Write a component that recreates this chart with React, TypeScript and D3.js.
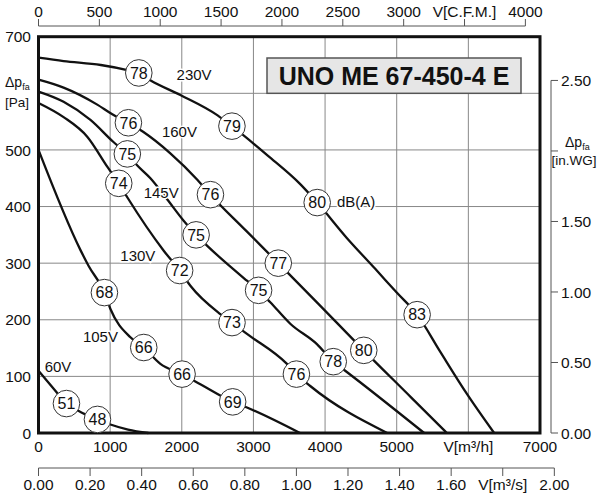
import React from 'react';
import * as d3 from 'd3';

const W = 600;
const H = 500;

// ---- axis ticks ----
const flowTicks = [0, 1000, 2000, 3000, 4000, 5000, 6000, 7000];
const flowTickLabels = ['0', '1000', '2000', '3000', '4000', '5000', 'V[m³/h]', '7000'];
const paTicks = [0, 100, 200, 300, 400, 500, 600, 700];
const paTickLabels = ['0', '100', '200', '300', '400', '500', '', '700'];
const cfmTicks = [0, 500, 1000, 1500, 2000, 2500, 3000, 3500, 4000];
const cfmTickLabels = ['0', '500', '1000', '1500', '2000', '2500', '3000', 'V[C.F.M.]', '4000'];
const m3sTicks = [0, 0.2, 0.4, 0.6, 0.8, 1.0, 1.2, 1.4, 1.6, 1.8, 2.0];
const m3sTickLabels = ['0.00', '0.20', '0.40', '0.60', '0.80', '1.00', '1.20', '1.40', '1.60', 'V[m³/s]', '2.00'];
const inwgTicks = [0, 0.5, 1.0, 1.5, 2.0, 2.5];
const inwgTickLabels = ['0.00', '0.50', '1.00', '1.50', '', '2.50'];

// ---- fan curves (flow m³/h, pressure Pa) ----
const v230Flow = [0, 350, 870, 1240, 1560, 1980, 2500, 3200, 3650, 4300, 4700, 5000, 5600, 5980, 6360];
const v230Pa = [663, 657, 650, 641, 623, 597, 561, 490, 440, 345, 290, 248, 145, 69, 0];
const v230DbFlow = [1400, 2700, 3890, 5285];
const v230DbPa = [636, 542, 407, 209];
const v230Db = [78, 79, 80, 83];

const v160Flow = [0, 350, 820, 1030, 1460, 1840, 2220, 2900, 3900, 5200, 5700];
const v160Pa = [624, 610, 580, 563, 532, 494, 447, 357, 229, 63, 0];
const v160DbFlow = [1255, 2400, 3347, 4540];
const v160DbPa = [548, 421, 300, 146];
const v160Db = [76, 76, 77, 80];

const v145Flow = [0, 350, 725, 1046, 1376, 1562, 1795, 2026, 2352, 2910, 3235, 3514, 3886, 4281, 5383];
const v145Pa = [603, 585, 553, 514, 473, 450, 413, 375, 331, 269, 231, 193, 157, 110, 0];
const v145DbFlow = [1240, 2200, 3072, 4114];
const v145DbPa = [493, 350, 252, 126];
const v145Db = [75, 75, 75, 78];

const v130Flow = [0, 350, 683, 962, 1241, 1748, 2120, 2538, 2910, 3468, 3793, 4867];
const v130Pa = [583, 558, 523, 470, 416, 322, 260, 210, 175, 122, 83, 0];
const v130DbFlow = [1120, 1970, 2701, 3600];
const v130DbPa = [441, 287, 195, 104];
const v130Db = [74, 72, 73, 76];

const v105Flow = [0, 586, 700, 1004, 1283, 1701, 2259, 2910, 3650];
const v105Pa = [500, 323, 295, 219, 169, 122, 86, 45, 0];
const v105DbFlow = [920, 1469, 2004, 2710];
const v105DbPa = [248, 151, 104, 55];
const v105Db = [68, 66, 66, 69];

const v60Flow = [0, 200, 586, 1004, 1250, 1534];
const v60Pa = [110, 80, 37, 15, 6, 0];
const v60DbFlow = [390, 823];
const v60DbPa = [52, 24];
const v60Db = [51, 48];

// ---- voltage / unit annotations (data coordinates) ----
const voltLabels = ['230V', '160V', '145V', '130V', '105V', '60V'];
const voltLabelFlow = [2172, 1967, 1713, 1387, 865, 272];
const voltLabelPa = [633, 533, 425, 314, 170, 117];
const dbaLabel = 'dB(A)';
const dbaLabelFlow = 4165;
const dbaLabelPa = 408;
const title = 'UNO ME 67-450-4 E';

const CFM_TO_M3H = 1.69901;
const INWG_TO_PA = 249.089;

type Pt = [number, number];
function buildCurve(f: number[], p: number[], df: number[], dp: number[]): Pt[] {
  const pts: Pt[] = f.map((v, i) => [v, p[i]] as Pt).concat(df.map((v, i) => [v, dp[i]] as Pt));
  pts.sort((a, b) => a[0] - b[0]);
  return pts;
}

const curveTable = [
  { pts: buildCurve(v230Flow, v230Pa, v230DbFlow, v230DbPa), df: v230DbFlow, dp: v230DbPa, db: v230Db },
  { pts: buildCurve(v160Flow, v160Pa, v160DbFlow, v160DbPa), df: v160DbFlow, dp: v160DbPa, db: v160Db },
  { pts: buildCurve(v145Flow, v145Pa, v145DbFlow, v145DbPa), df: v145DbFlow, dp: v145DbPa, db: v145Db },
  { pts: buildCurve(v130Flow, v130Pa, v130DbFlow, v130DbPa), df: v130DbFlow, dp: v130DbPa, db: v130Db },
  { pts: buildCurve(v105Flow, v105Pa, v105DbFlow, v105DbPa), df: v105DbFlow, dp: v105DbPa, db: v105Db },
  { pts: buildCurve(v60Flow, v60Pa, v60DbFlow, v60DbPa), df: v60DbFlow, dp: v60DbPa, db: v60Db },
];

const FONT = '"Liberation Sans", Arial, Helvetica, sans-serif';

export default function App() {
  const x = d3.scaleLinear().domain([0, 7000]).range([38.5, 540]);
  const y = d3.scaleLinear().domain([0, 700]).range([433, 36.7]);
  const xCfm = d3.scaleLinear().domain([0, 4000]).range([x(0), x(4000 * CFM_TO_M3H)]);
  const xM3s = d3.scaleLinear().domain([0, 2]).range([x(0), x(2 * 3600)]);
  const yInwg = d3.scaleLinear().domain([0, 2.5]).range([y(0), y(2.5 * INWG_TO_PA)]);

  const line = d3
    .line<Pt>()
    .x((d) => x(d[0]))
    .y((d) => y(d[1]))
    .curve(d3.curveMonotoneX);

  const [x0, x1] = x.range();
  const [y0, y1] = y.range();
  const topAxisY = 26;
  const bottomAxisY = 468;
  const rightAxisX = 551;
  const axisColor = '#555';

  return (
    <svg
      width={W}
      height={H}
      viewBox={`0 0 ${W} ${H}`}
      style={{ position: 'absolute', left: 0, top: 0, background: '#fff' }}
      fontFamily={FONT}
    >
      <rect x={0} y={0} width={W} height={H} fill="#fff" />
      {/* grid */}
      <g stroke="#888" strokeWidth={1}>
        {flowTicks.slice(1, -1).map((t) => (
          <line key={'gx' + t} x1={x(t)} x2={x(t)} y1={y1} y2={y0} />
        ))}
        {paTicks.slice(1, -1).map((t) => (
          <line key={'gy' + t} x1={x0} x2={x1} y1={y(t)} y2={y(t)} />
        ))}
      </g>

      {/* title box */}
      <rect x={267} y={58} width={254} height={y(600) - 58} fill="#e6e6e6" stroke="#555" strokeWidth={1.5} />
      <text x={394} y={85} textAnchor="middle" fontSize={25} fontWeight="bold" fill="#111">
        {title}
      </text>

      {/* curves */}
      <g fill="none" stroke="#111" strokeWidth={2.3} strokeLinejoin="round">
        {curveTable.map((c, i) => (
          <path key={'c' + i} d={line(c.pts) || ''} />
        ))}
      </g>

      {/* frame */}
      <rect x={x0} y={y1} width={x1 - x0} height={y0 - y1} fill="none" stroke="#111" strokeWidth={3} />

      {/* dB circles */}
      {curveTable.map((c, i) => (
        <g key={'db' + i}>
          {c.df.map((f, j) => (
            <g key={j}>
              <circle cx={x(f)} cy={y(c.dp[j])} r={13.3} fill="#fff" stroke="#333" strokeWidth={1} />
              <text x={x(f)} y={y(c.dp[j])} dy="0.36em" textAnchor="middle" fontSize={16} fill="#111">
                {c.db[j]}
              </text>
            </g>
          ))}
        </g>
      ))}

      {/* voltage labels */}
      {voltLabels.map((l, i) => (
        <text
          key={l}
          x={x(voltLabelFlow[i])}
          y={y(voltLabelPa[i])}
          dy="0.36em"
          textAnchor="middle"
          fontSize={15}
          fill="#111"
          stroke="#fff"
          strokeWidth={3}
          paintOrder="stroke"
        >
          {l}
        </text>
      ))}
      <text
        x={x(dbaLabelFlow)}
        y={y(dbaLabelPa)}
        dy="0.36em"
        textAnchor="start"
        fontSize={15}
        fill="#111"
        stroke="#fff"
        strokeWidth={3}
        paintOrder="stroke"
      >
        {dbaLabel}
      </text>

      {/* left axis labels */}
      {paTicks.map((t, i) =>
        paTickLabels[i] ? (
          <text key={'ly' + t} x={31} y={y(t)} dy="0.36em" textAnchor="end" fontSize={15.5} fill="#111">
            {paTickLabels[i]}
          </text>
        ) : null
      )}
      <text x={5} y={87} fontSize={14} fill="#111">
        Δp<tspan fontSize={9} dy={3}>fa</tspan>
      </text>
      <text x={5} y={107} fontSize={13.5} fill="#111">
        [Pa]
      </text>

      {/* bottom labels (m³/h) */}
      {flowTicks.map((t, i) => (
        <text key={'bx' + t} x={x(t)} y={452} textAnchor="middle" fontSize={15.5} fill="#111">
          {flowTickLabels[i]}
        </text>
      ))}

      {/* top CFM axis */}
      <line x1={xCfm(0)} x2={xCfm(4000)} y1={topAxisY} y2={topAxisY} stroke={axisColor} strokeWidth={1} />
      {cfmTicks.map((t, i) => (
        <g key={'tc' + t}>
          <line x1={xCfm(t)} x2={xCfm(t)} y1={topAxisY - 7} y2={topAxisY} stroke={axisColor} strokeWidth={1} />
          <text x={xCfm(t)} y={17} textAnchor="middle" fontSize={15.5} fill="#111">
            {cfmTickLabels[i]}
          </text>
        </g>
      ))}

      {/* bottom m³/s axis */}
      <line x1={xM3s(0)} x2={xM3s(2)} y1={bottomAxisY} y2={bottomAxisY} stroke={axisColor} strokeWidth={1} />
      {m3sTicks.map((t, i) => (
        <g key={'bm' + i}>
          <line x1={xM3s(t)} x2={xM3s(t)} y1={bottomAxisY} y2={bottomAxisY + 8} stroke={axisColor} strokeWidth={1} />
          <text x={xM3s(t)} y={490} textAnchor="middle" fontSize={15.5} fill="#111">
            {m3sTickLabels[i]}
          </text>
        </g>
      ))}

      {/* right in.WG axis */}
      <line x1={rightAxisX} x2={rightAxisX} y1={yInwg(2.5)} y2={yInwg(0)} stroke={axisColor} strokeWidth={1} />
      {inwgTicks.map((t, i) => (
        <g key={'ri' + i}>
          <line x1={rightAxisX} x2={rightAxisX + 7} y1={yInwg(t)} y2={yInwg(t)} stroke={axisColor} strokeWidth={1} />
          {inwgTickLabels[i] ? (
            <text x={rightAxisX + 10} y={yInwg(t)} dy="0.36em" textAnchor="start" fontSize={15.5} fill="#111">
              {inwgTickLabels[i]}
            </text>
          ) : null}
        </g>
      ))}
      <text x={565} y={147} fontSize={14} fill="#111">
        Δp<tspan fontSize={9} dy={3}>fa</tspan>
      </text>
      <text x={574} y={165} textAnchor="middle" fontSize={13.5} fill="#111">
        [in.WG]
      </text>
    </svg>
  );
}
